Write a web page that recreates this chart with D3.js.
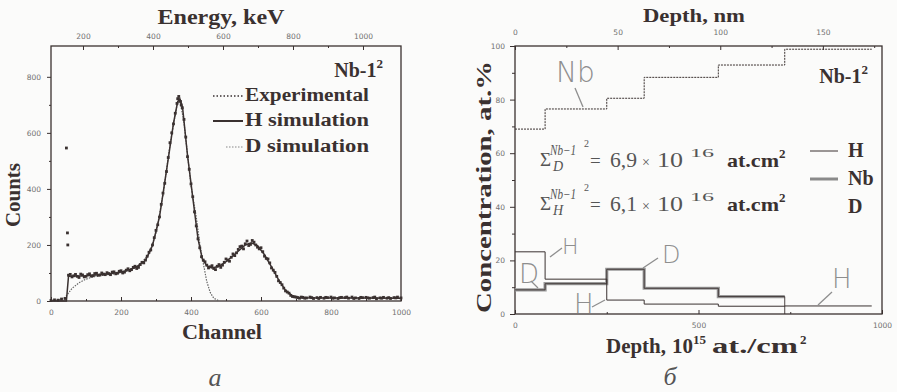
<!DOCTYPE html>
<html>
<head>
<meta charset="utf-8">
<script src="https://cdn.jsdelivr.net/npm/d3@7"></script>
<style>
  body { margin: 0; background: #fbfbfa; }
  svg { display: block; }
  .tick text { font-family: "DejaVu Sans", sans-serif; font-size: 7.5px; fill: #707070; }
  .tick line { stroke: #3a3130; }
  .domain { display: none; }
  .hand { font-family: "DejaVu Sans", sans-serif; font-weight: 200; fill: #8e8e8e; }
</style>
</head>
<body>
<svg id="chart" width="897" height="392"></svg>
<script>
// ---- panel a: spectrum ----
const channelTicks = [0, 200, 400, 600, 800, 1000];
const channelMinor = [100, 300, 500, 700, 900];
const energyTicks = [200, 400, 600, 800, 1000];
const energyMinor = [300, 500, 700, 900];
const countTicks = [0, 200, 400, 600, 800];
const countMinor = [100, 300, 500, 700];

// [channel, counts]
const experimental = [
  [0, 2], [10, 4], [20, 3], [30, 7], [40, 9], [44, 546], [47, 243], [48, 200],
  [50, 92], [60, 86], [70, 95], [80, 84], [90, 93], [100, 88], [110, 97], [120, 90],
  [130, 99], [140, 93], [150, 96], [160, 101], [170, 94], [180, 104], [190, 99],
  [200, 108], [210, 103], [220, 115], [230, 112], [240, 124], [250, 120], [260, 138],
  [270, 146], [280, 174], [290, 200], [300, 252], [310, 300], [320, 385], [330, 462],
  [340, 565], [350, 632], [360, 705], [365, 730], [370, 712], [375, 690], [380, 648],
  [390, 515], [400, 418], [410, 318], [420, 222], [430, 158], [440, 140], [450, 118],
  [460, 126], [470, 112], [480, 130], [490, 128], [500, 150], [510, 142], [520, 168],
  [530, 172], [540, 194], [550, 186], [560, 214], [570, 202], [580, 210], [590, 192],
  [600, 190], [610, 160], [620, 150], [630, 118], [640, 102], [650, 72], [660, 58],
  [670, 36], [680, 28], [690, 16], [700, 14], [710, 10], [720, 13], [730, 11], [740, 14],
  [750, 9], [760, 12], [770, 13], [780, 10], [790, 12], [800, 14], [810, 11], [820, 9],
  [830, 13], [840, 12], [850, 10], [860, 14], [870, 11], [880, 9], [890, 12], [900, 13],
  [910, 10], [920, 12], [930, 8], [940, 11], [950, 13], [960, 10], [970, 9], [980, 12],
  [990, 14], [1000, 11],
  [55, 95], [65, 90], [75, 88], [85, 96], [95, 86], [105, 94], [115, 89], [125, 98],
  [135, 92], [145, 100], [155, 94], [165, 98], [175, 103], [185, 97], [195, 106],
  [205, 100], [215, 110], [225, 108], [235, 120], [245, 116], [255, 130], [265, 136],
  [275, 160], [285, 182], [295, 226], [305, 272], [315, 345], [325, 420], [335, 512],
  [345, 600], [355, 670], [362, 722], [367, 716], [372, 700], [385, 585], [395, 470],
  [405, 372], [415, 268], [425, 190], [435, 146], [445, 128], [455, 122], [465, 116],
  [475, 124], [485, 120], [495, 138], [505, 146], [515, 156], [525, 162], [535, 184],
  [545, 196], [555, 204], [565, 198], [575, 216], [585, 200], [595, 186], [605, 176],
  [615, 152], [625, 136], [635, 110], [645, 88], [655, 66], [665, 46], [675, 32],
  [685, 20], [695, 15], [705, 12], [715, 14], [725, 10], [745, 12], [765, 9], [785, 13],
  [805, 10], [825, 12], [845, 14], [865, 9], [885, 13], [905, 11], [925, 14], [945, 10],
  [965, 12], [985, 11]
];

const hSimulation = [
  [0, 0], [44, 0], [50, 88], [100, 90], [150, 95], [200, 103], [240, 118], [270, 145],
  [290, 198], [310, 300], [330, 465], [350, 635], [362, 712], [368, 722], [376, 690],
  [390, 520], [405, 370], [420, 222], [432, 152], [445, 126], [460, 118], [480, 124],
  [500, 140], [530, 172], [555, 200], [572, 208], [590, 198], [610, 165], [630, 122],
  [650, 76], [670, 38], [690, 18], [710, 12], [800, 11], [900, 11], [1000, 10]
];

const dSimulation = [
  [0, 0], [20, 3], [40, 12], [60, 45], [80, 65], [100, 78], [120, 86], [150, 92],
  [200, 100], [250, 124], [280, 168], [300, 242], [320, 378], [340, 558], [360, 700],
  [368, 720], [380, 636], [400, 410], [415, 300], [425, 205], [435, 135], [445, 70],
  [455, 30], [465, 10], [480, 0]
];

// ---- panel б: depth profiles ----
const depthTicks = [0, 500, 1000];
const depthMinor = [250, 750];
const depthNmTicks = [0, 50, 100, 150];
const depthNmMinor = [25, 75, 125, 175];
const concTicks = [0, 20, 40, 60, 80, 100];
const concMinor = [10, 30, 50, 70, 90];

const layerEdges = [0, 82, 250, 352, 554, 735, 972];
const nbConc = [69, 76.5, 80.5, 88.3, 92.9, 98.8];
const hConc = [23.2, 13, 5.2, 3.7, 2.9, 3.0];
const dConc = [9, 11.3, 16.7, 9.6, 6.5];

const INK = '#3a3130';
const SERIF = '"Liberation Serif", Tinos, "Times New Roman", Times, serif';
const svg = d3.select('#chart');

// Frames
const A = { x0: 51, x1: 401, y0: 46, y1: 301 };
const B = { x0: 515, x1: 882, y0: 46, y1: 314 };

const xA = d3.scaleLinear().domain([0, 1000]).range([A.x0, A.x1]);
const eA = d3.scaleLinear().domain([108.6, 1108.6]).range([A.x0, A.x1]);
const yA = d3.scaleLinear().domain([0, 910]).range([A.y1, A.y0]);

const xB = d3.scaleLinear().domain([0, 1000]).range([B.x0, B.x1]);
const nmB = d3.scaleLinear().domain([0, 178.8]).range([B.x0, B.x1]);
const yB = d3.scaleLinear().domain([0, 100]).range([B.y1, B.y0]);

function axis(gen, tr, values, size, pad, minor) {
  const a = gen.tickValues(values).tickSize(size).tickPadding(pad)
    .tickFormat(minor ? () => '' : d3.format('d'));
  return svg.append('g').attr('transform', tr).call(a);
}

// panel a axes
axis(d3.axisBottom(xA), `translate(0,${A.y1})`, channelTicks, -4, 9);
axis(d3.axisBottom(xA), `translate(0,${A.y1})`, channelMinor, -2, 0, true);
axis(d3.axisTop(eA), `translate(0,${A.y0})`, energyTicks, -4, 7);
axis(d3.axisTop(eA), `translate(0,${A.y0})`, energyMinor, -2, 0, true);
axis(d3.axisLeft(yA), `translate(${A.x0},0)`, countTicks, 4, 6);
axis(d3.axisLeft(yA), `translate(${A.x0},0)`, countMinor, 2, 0, true);

// panel б axes
axis(d3.axisBottom(xB), `translate(0,${B.y1})`, depthTicks, -4, 9);
axis(d3.axisBottom(xB), `translate(0,${B.y1})`, depthMinor, -2, 0, true);
axis(d3.axisTop(nmB), `translate(0,${B.y0})`, depthNmTicks, -4, 11);
axis(d3.axisTop(nmB), `translate(0,${B.y0})`, depthNmMinor, -2, 0, true);
axis(d3.axisLeft(yB), `translate(${B.x0},0)`, concTicks, 5, 5);
axis(d3.axisLeft(yB), `translate(${B.x0},0)`, concMinor, 3, 0, true);

[A, B].forEach(f => {
  svg.append('rect')
    .attr('x', f.x0).attr('y', f.y0)
    .attr('width', f.x1 - f.x0).attr('height', f.y1 - f.y0)
    .attr('fill', 'none').attr('stroke', INK).attr('stroke-width', 1.3);
});

// panel a curves
const lineA = d3.line().x(d => xA(d[0])).y(d => yA(d[1]));

svg.append('path').datum(dSimulation).attr('d', lineA)
  .attr('fill', 'none').attr('stroke', '#666').attr('stroke-width', 1.2)
  .attr('stroke-dasharray', '1.5,1.2');

svg.append('path').datum(hSimulation).attr('d', lineA)
  .attr('fill', 'none').attr('stroke', INK).attr('stroke-width', 1.5);

svg.append('g').selectAll('rect').data(experimental).join('rect')
  .attr('x', d => xA(d[0]) - 1.4).attr('y', d => yA(d[1]) - 1.4)
  .attr('width', 2.8).attr('height', 2.8).attr('fill', INK);

// panel b step profiles
const stepLine = d3.line().x(d => xB(d[0])).y(d => yB(d[1])).curve(d3.curveStepAfter);
const steps = (vals, endValue) => {
  const pts = vals.map((v, i) => [layerEdges[i], v]);
  pts.push([layerEdges[vals.length], endValue === undefined ? vals[vals.length - 1] : endValue]);
  return pts;
};

svg.append('path').datum(steps(nbConc)).attr('d', stepLine)
  .attr('fill', 'none').attr('stroke', INK).attr('stroke-width', 1)
  .attr('stroke-dasharray', '2,1');

svg.append('path').datum(steps(dConc)).attr('d', stepLine)
  .attr('fill', 'none').attr('stroke', '#9a9a9a').attr('stroke-width', 3.2);
svg.append('path').datum(steps(dConc, 0)).attr('d', stepLine)
  .attr('fill', 'none').attr('stroke', INK).attr('stroke-width', 0.9);

svg.append('path').datum(steps(hConc)).attr('d', stepLine)
  .attr('fill', 'none').attr('stroke', INK).attr('stroke-width', 1);

// ---- text ----
function label(x, y, txt, size, opts = {}) {
  const t = svg.append('text')
    .attr('font-family', SERIF)
    .attr('x', x).attr('y', y)
    .attr('font-size', size)
    .attr('font-weight', opts.weight || 'bold')
    .attr('fill', opts.fill || INK)
    .attr('text-anchor', opts.anchor || 'start')
    .text(txt);
  if (opts.italic) t.attr('font-style', 'italic');
  if (opts.len) t.attr('textLength', opts.len).attr('lengthAdjust', 'spacingAndGlyphs');
  if (opts.rotate) t.attr('transform', `rotate(-90,${x},${y})`);
  return t;
}

// axis titles
label(221, 24, 'Energy, keV', 20, { anchor: 'middle', len: 127 });
label(222, 339, 'Channel', 20, { anchor: 'middle', len: 80 });
label(20, 195, 'Counts', 20, { anchor: 'middle', len: 64, rotate: true });

label(694, 22, 'Depth, nm', 19, { anchor: 'middle', len: 102 });
label(606, 353, 'Depth,', 20, { len: 60 });
label(672, 353, '10', 20, { len: 21 });
label(693, 344, '15', 13);
label(712, 353, 'at./cm', 20, { len: 86 });
label(800, 344, '2', 13);
label(491, 187, 'Concentration, at.%', 20, { anchor: 'middle', len: 252, rotate: true });

// Nb-1^2 markers
[[383, 77], [868, 83]].forEach(([x, y]) => {
  const t = label(x, y, 'Nb-1', 20, { anchor: 'end' });
  t.append('tspan').attr('font-size', 13).attr('dy', -9).text('2');
});

// legend a
const legA = [
  { name: 'Experimental', y: 96, kind: 'exp' },
  { name: 'H simulation', y: 121, kind: 'h' },
  { name: 'D simulation', y: 147, kind: 'd' }
];
legA.forEach(l => {
  if (l.kind === 'exp') {
    svg.append('line').attr('x1', 213).attr('x2', 243).attr('y1', l.y).attr('y2', l.y)
      .attr('stroke', INK).attr('stroke-width', 1.6).attr('stroke-dasharray', '1.5,2');
  } else if (l.kind === 'h') {
    svg.append('line').attr('x1', 213).attr('x2', 243).attr('y1', l.y).attr('y2', l.y)
      .attr('stroke', INK).attr('stroke-width', 2);
  } else {
    svg.append('line').attr('x1', 226).attr('x2', 243).attr('y1', l.y).attr('y2', l.y)
      .attr('stroke', '#888').attr('stroke-width', 1.1).attr('stroke-dasharray', '1.5,1.5');
  }
  label(245, l.y + 5, l.name, 18, { len: 124 });
});

// legend b
svg.append('line').attr('x1', 810).attr('x2', 838).attr('y1', 151).attr('y2', 151)
  .attr('stroke', INK).attr('stroke-width', 1);
svg.append('line').attr('x1', 810).attr('x2', 838).attr('y1', 179).attr('y2', 179)
  .attr('stroke', '#8a8a8a').attr('stroke-width', 3);
label(848, 157, 'H', 20);
label(848, 185, 'Nb', 20);
label(848, 213, 'D', 20);

// sums: each piece placed where the reference shows it
function sum(x, y, sub, value) {
  const g = { weight: 'normal', fill: '#555' };
  label(x, y - 1, 'Σ', 19, g);
  label(x + 10, y - 12, 'Nb−1', 14, { ...g, italic: true, len: 26 });
  label(x + 44, y - 20, '2', 10, g);
  label(x + 13, y + 4, sub, 14, { ...g, italic: true });
  label(x + 50, y, '=', 19, g);
  label(x + 70, y, value, 20, { ...g, len: 27 });
  label(x + 102, y, '×', 14, g);
  label(x + 117, y, '10', 20, { ...g, len: 26 });
  label(x + 150, y - 10, '16', 13, { ...g, len: 24 });
  label(x + 187, y, 'at.cm', 19, { len: 52 });
  label(x + 239, y - 9, '2', 13);
}
sum(540, 167, 'D', '6,9');
sum(540, 211, 'H', '6,1');

// handwritten annotations
const hand = (x, y, txt, size) => svg.append('text').attr('class', 'hand')
  .attr('x', x).attr('y', y).attr('font-size', size).text(txt);
const stroke = (x1, y1, x2, y2) => svg.append('line')
  .attr('x1', x1).attr('y1', y1).attr('x2', x2).attr('y2', y2)
  .attr('stroke', '#8e8e8e').attr('stroke-width', 1.3);

hand(556, 82, 'Nb', 28); stroke(575, 88, 583, 107);
hand(562, 254, 'H', 22); stroke(550, 257, 562, 248);
hand(519, 283, 'D', 26); stroke(531, 281, 538, 288);
hand(662, 263, 'D', 24); stroke(643, 268, 658, 258);
hand(574, 313, 'H', 26); stroke(592, 307, 605, 300);
hand(832, 288, 'H', 26); stroke(818, 305, 832, 292);

// panel letters
label(215, 386, 'а', 26, { weight: 'normal', italic: true, fill: '#555', anchor: 'middle' });
label(670, 385, 'б', 26, { weight: 'normal', italic: true, fill: '#555', anchor: 'middle' });
</script>
</body>
</html>
